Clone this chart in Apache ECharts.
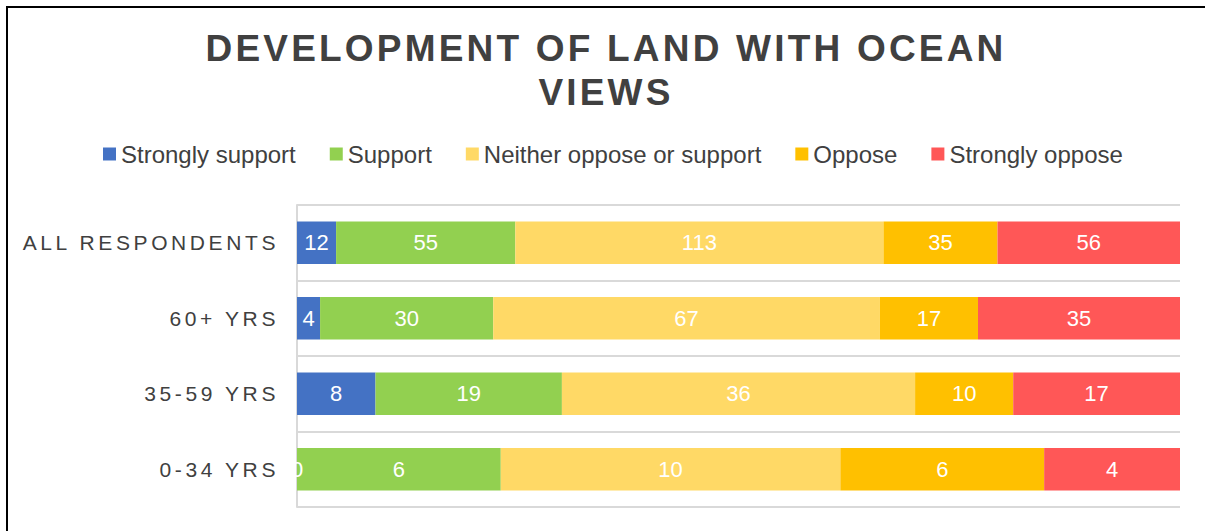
<!DOCTYPE html>
<html>
<head>
<meta charset="utf-8">
<script src="https://cdn.jsdelivr.net/npm/echarts@6/dist/echarts.min.js"></script>
<style>
  html, body { margin: 0; padding: 0; background: #fff; }
  #chart { width: 1205px; height: 531px; }
  /* spaced capitals for the category labels and the heading */
  #chart text[text-anchor="end"] { letter-spacing: 3.6px; }
  #chart text[style*="bold"] { letter-spacing: 3.2px; }
</style>
</head>
<body>
<div id="chart"></div>
<script>
// Survey responses by age group (counts)
const categories = ['ALL RESPONDENTS', '60+ YRS', '35-59 YRS', '0-34 YRS'];
const seriesNames = ['Strongly support', 'Support', 'Neither oppose or support', 'Oppose', 'Strongly oppose'];
const strongSupport = [12, 4, 8, 0];
const support = [55, 30, 19, 6];
const neither = [113, 67, 36, 10];
const oppose = [35, 17, 10, 6];
const strongOppose = [56, 35, 17, 4];
const colors = ['#4472C4', '#92D050', '#FFD966', '#FFC000', '#FF5757'];

const counts = [strongSupport, support, neither, oppose, strongOppose];
const totals = categories.map((_, i) => counts.reduce((s, arr) => s + arr[i], 0));

const FONT = '"Liberation Sans", Arial, sans-serif';

// 100% stacked bars: each segment is its share of the row total, labelled with the count
const series = counts.map((arr, si) => ({
  name: seriesNames[si],
  type: 'bar',
  stack: 'share',
  barWidth: '56%',
  itemStyle: { color: colors[si] },
  label: {
    show: true,
    position: 'inside',
    color: '#ffffff',
    fontSize: 22,
    fontFamily: FONT,
    formatter: p => String(arr[p.dataIndex])
  },
  data: arr.map((v, i) => v / totals[i] * 100)
}));

const chart = echarts.init(document.getElementById('chart'), null, { renderer: 'svg' });
chart.setOption({
  animation: false,
  title: {
    text: 'DEVELOPMENT OF LAND WITH OCEAN\nVIEWS',
    left: 601,
    top: 21,
    textAlign: 'center',
    textStyle: {
      fontFamily: FONT,
      fontWeight: 'bold',
      fontSize: 37,
      lineHeight: 44,
      color: '#404040'
    }
  },
  legend: {
    left: 98,
    top: 137,
    itemWidth: 13,
    itemHeight: 13,
    itemGap: 34,
    icon: 'rect',
    textStyle: { fontFamily: FONT, fontSize: 24, color: '#404040' },
    data: seriesNames
  },
  grid: { left: 297, right: 25, top: 205, bottom: 24, containLabel: false },
  xAxis: {
    type: 'value',
    min: 0,
    max: 100,
    show: false
  },
  yAxis: {
    type: 'category',
    inverse: true,
    data: categories,
    axisLine: { show: true, lineStyle: { color: '#d9d9d9', width: 2 } },
    axisTick: { show: false },
    splitLine: { show: true, lineStyle: { color: '#d9d9d9', width: 2 } },
    axisLabel: { fontFamily: FONT, fontSize: 21, color: '#404040', margin: 18 }
  },
  graphic: [{
    type: 'rect',
    shape: { x: 7, y: 7, width: 1400, height: 800 },
    style: { fill: 'none', stroke: '#000', lineWidth: 2 },
    silent: true,
    z: 100
  }],
  series: series
});
</script>
</body>
</html>
